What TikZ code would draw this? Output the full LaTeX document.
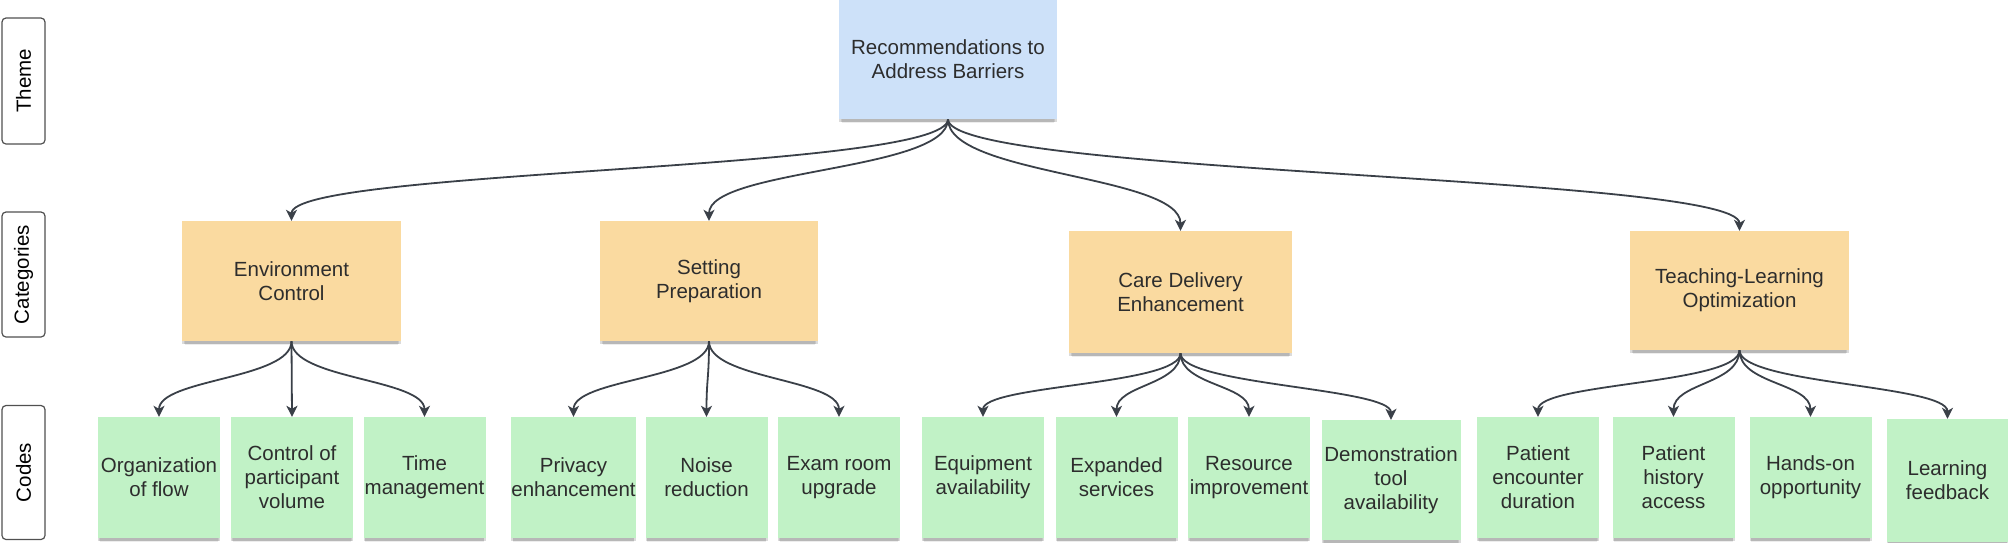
\documentclass[tikz,border=0pt]{standalone}
\usepackage{fontspec}
\setmainfont{Liberation Sans}
\usetikzlibrary{arrows.meta,shadows}
\definecolor{themeblue}{RGB}{205,225,249}
\definecolor{catorange}{RGB}{250,218,160}
\definecolor{codegreen}{RGB}{193,242,198}
\definecolor{linkgray}{RGB}{58,64,72}
\definecolor{txtgray}{RGB}{45,45,45}
\definecolor{lblborder}{RGB}{80,80,80}
\tikzset{
  boxbase/.style={align=center, text=txtgray, inner sep=0pt,
    drop shadow={shadow xshift=0pt, shadow yshift=-6pt, shadow scale=0.97, opacity=0.07, fill=black},
    drop shadow={shadow xshift=0pt, shadow yshift=-4.5pt, shadow scale=0.98, opacity=0.10, fill=black},
    drop shadow={shadow xshift=0pt, shadow yshift=-3pt, opacity=0.14, fill=black}},
  themebox/.style={boxbase, fill=themeblue, minimum width=218, minimum height=119},
  catbox/.style={boxbase, fill=catorange, minimum width=218, minimum height=120},
  codebox/.style={boxbase, fill=codegreen, minimum width=122, minimum height=121},
  lblbox/.style={draw=lblborder, line width=1.2pt, rounded corners=4pt, fill=white,
    minimum width=43, inner sep=0pt, text=black},
  arr/.style={draw=linkgray, line width=1.8pt,
    -{Stealth[length=11pt,width=11pt,inset=3pt]}}
}
\begin{document}
\begin{tikzpicture}[x=1pt,y=-1pt,font=\fontsize{20.5}{24}\selectfont]
\useasboundingbox (0,0) rectangle (2008,542);

% row labels
\node[lblbox, minimum height=126] (lthm) at (23.5,81) {\rotatebox{90}{Theme}};
\node[lblbox, minimum height=125] (lcat) at (23.5,274.5) {\rotatebox{90}{Categories}};
\node[lblbox, minimum height=134] (lcod) at (23.5,472.5) {\rotatebox{90}{Codes}};

% theme
\node[themebox] (root) at (948,59.5) {Recommendations to\\Address Barriers};

% categories
\node[catbox, minimum width=219] (env) at (291.5,281) {Environment\\Control};
\node[catbox] (setp) at (709,281) {Setting\\Preparation};
\node[catbox, minimum width=223, minimum height=122] (care) at (1180.5,292) {Care Delivery\\Enhancement};
\node[catbox, minimum width=219, minimum height=119] (teach) at (1739.5,290.5) {Teaching-Learning\\Optimization};

% codes
\node[codebox] (org) at (159,477.5) {Organization\\of flow};
\node[codebox] (ctrl) at (292,477.5) {Control of\\participant\\volume};
\node[codebox] (time) at (424.5,477.5) {Time\\management};
\node[codebox] (priv) at (573.5,477.5) {Privacy\\enhancement};
\node[codebox] (noise) at (706.5,477.5) {Noise\\reduction};
\node[codebox] (exam) at (839,477.5) {Exam room\\upgrade};
\node[codebox] (equip) at (983,477.5) {Equipment\\availability};
\node[codebox] (expand) at (1116.5,477.5) {Expanded\\services};
\node[codebox] (res) at (1249,477.5) {Resource\\improvement};
\node[codebox, minimum width=139, minimum height=120] (demo) at (1391,480) {Demonstration\\tool\\availability};
\node[codebox] (penc) at (1538,477.5) {Patient\\encounter\\duration};
\node[codebox] (phist) at (1673.5,477.5) {Patient\\history\\access};
\node[codebox] (hands) at (1810.5,477.5) {Hands-on\\opportunity};
\node[codebox, minimum height=123] (learn) at (1947.5,480.5) {Learning\\feedback};

% theme -> categories
\draw[arr] (root.south) .. controls +(0,52) and +(0,-52) .. (env.north);
\draw[arr] (root.south) .. controls +(0,52) and +(0,-52) .. (setp.north);
\draw[arr] (root.south) .. controls +(0,56) and +(0,-56) .. (care.north);
\draw[arr] (root.south) .. controls +(0,56) and +(0,-56) .. (teach.north);

% categories -> codes
\draw[arr] (env.south) .. controls +(0,38) and +(0,-38) .. (org.north);
\draw[arr] (env.south) -- (ctrl.north);
\draw[arr] (env.south) .. controls +(0,38) and +(0,-38) .. (time.north);

\draw[arr] (setp.south) .. controls +(0,38) and +(0,-38) .. (priv.north);
\draw[arr] (setp.south) .. controls +(0,38) and +(0,-38) .. (noise.north);
\draw[arr] (setp.south) .. controls +(0,38) and +(0,-38) .. (exam.north);

\draw[arr] (care.south) .. controls +(0,32) and +(0,-32) .. (equip.north);
\draw[arr] (care.south) .. controls +(0,32) and +(0,-32) .. (expand.north);
\draw[arr] (care.south) .. controls +(0,32) and +(0,-32) .. (res.north);
\draw[arr] (care.south) .. controls +(0,32) and +(0,-32) .. (demo.north);

\draw[arr] (teach.south) .. controls +(0,34) and +(0,-34) .. (penc.north);
\draw[arr] (teach.south) .. controls +(0,34) and +(0,-34) .. (phist.north);
\draw[arr] (teach.south) .. controls +(0,34) and +(0,-34) .. (hands.north);
\draw[arr] (teach.south) .. controls +(0,34) and +(0,-34) .. (learn.north);
\end{tikzpicture}
\end{document}
